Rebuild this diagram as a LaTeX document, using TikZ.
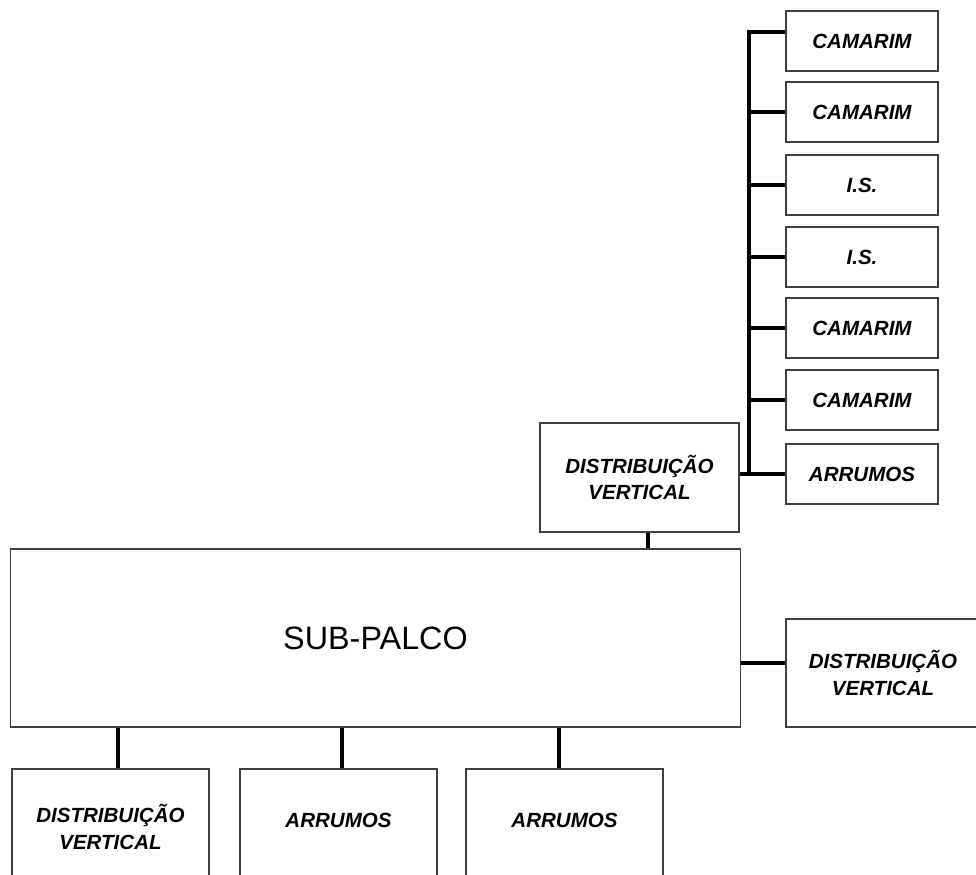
\documentclass[tikz,border=0pt]{standalone}
\usepackage{fontspec}
\setmainfont{Liberation Sans}

\tikzstyle{block} = [draw = black!75, line width = 0.8pt, text centered, align = center, inner sep = 0pt, font = \bfseries\itshape\fontsize{14.6}{19}\selectfont]
\tikzstyle{wire} = [line width = 2.8pt]

\begin{document}
\begin{tikzpicture}[x = 0.025cm, y = -0.025cm]
		\useasboundingbox (0, 0) rectangle (976, 875);
		\clip (0, 0) rectangle (976, 875);
		\node [block, minimum width = 3.8cm, minimum height = 1.5cm] at (862, 41) (1) {CAMARIM};
		\node [block, minimum width = 3.8cm, minimum height = 1.5cm] at (862, 112) (2) {CAMARIM};
		\node [block, minimum width = 3.8cm, minimum height = 1.5cm] at (862, 185) (3) {I.S.};
		\node [block, minimum width = 3.8cm, minimum height = 1.5cm] at (862, 257) (4) {I.S.};
		\node [block, minimum width = 3.8cm, minimum height = 1.5cm] at (862, 328) (5) {CAMARIM};
		\node [block, minimum width = 3.8cm, minimum height = 1.5cm] at (862, 400) (6) {CAMARIM};
		\node [block, minimum width = 3.8cm, minimum height = 1.5cm] at (862, 474) (7) {ARRUMOS};
		\node [block, minimum width = 4.975cm, minimum height = 2.725cm] at (639.5, 477.5) (8) {DISTRIBUIÇÃO\\VERTICAL};
		\node [block, minimum width = 18.225cm, minimum height = 4.45cm, font = \fontsize{23}{28}\selectfont] at (375.5, 638) (9) {SUB-PALCO};
		\node [block, minimum width = 4.85cm, minimum height = 2.7cm] at (883, 673) (10) {DISTRIBUIÇÃO\\VERTICAL};
		\node [block, minimum width = 4.925cm, minimum height = 2.9cm] at (110.5, 827) (11) {DISTRIBUIÇÃO\\VERTICAL};
		\node [block, minimum width = 4.925cm, minimum height = 2.9cm, text depth = 0.35cm] at (338.5, 827) (12) {ARRUMOS};
		\node [block, minimum width = 4.925cm, minimum height = 2.9cm, text depth = 0.35cm] at (564.5, 827) (13) {ARRUMOS};

		\draw [wire] ([yshift = 0.225cm]1.west) -- ([xshift = -0.9cm, yshift = 0.225cm]1.west) -- ([xshift = -0.9cm]7.west);
		\draw [wire] ([xshift = -0.9cm]2.west) -- (2.west);
		\draw [wire] ([xshift = -0.9cm]3.west) -- (3.west);
		\draw [wire] ([xshift = -0.9cm]4.west) -- (4.west);
		\draw [wire] ([xshift = -0.9cm]5.west) -- (5.west);
		\draw [wire] ([xshift = -0.9cm]6.west) -- (6.west);
		\draw [wire] (8.east |- 7.west) -- (7.west);
		\draw [wire] ([xshift = 0.21cm]8.south) -- ([xshift = 0.21cm]8.south |- 9.north);
		\draw [wire] ([yshift = 0.25cm]10.west) -- ([yshift = 0.25cm]10.west -| 9.east);
		\draw [wire] ([xshift = 0.19cm]11.north) -- ([xshift = 0.19cm]11.north |- 9.south);
		\draw [wire] ([xshift = 0.09cm]12.north) -- ([xshift = 0.09cm]12.north |- 9.south);
		\draw [wire] ([xshift = -0.14cm]13.north) -- ([xshift = -0.14cm]13.north |- 9.south);
	\end{tikzpicture}
\end{document}
